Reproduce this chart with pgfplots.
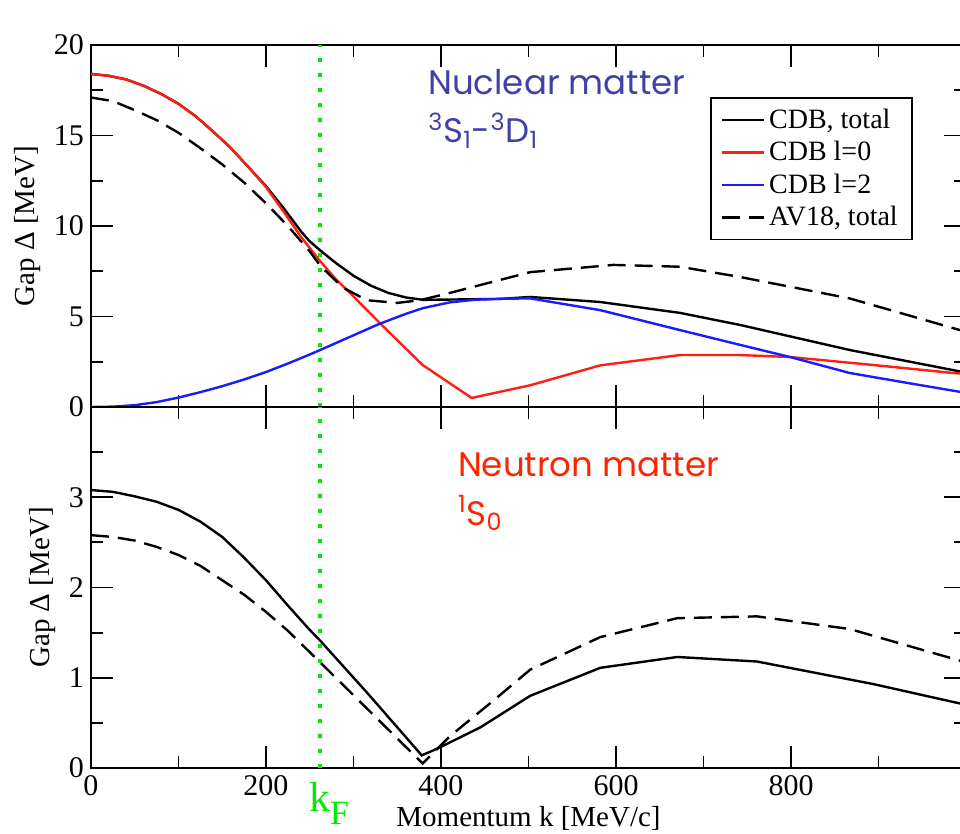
\documentclass[border=0pt]{standalone}
\usepackage{fontspec}
\setmainfont{Liberation Serif}
\newfontfamily\annot{Poppins}
\usepackage{pgfplots}
\pgfplotsset{compat=1.18}

\definecolor{nucblue}{RGB}{64,64,170}
\definecolor{neured}{RGB}{255,36,0}
\definecolor{kfgreen}{RGB}{0,235,0}
\definecolor{cdbred}{RGB}{255,30,20}
\definecolor{cdbblue}{RGB}{20,30,255}

\pgfplotsset{
  gapaxis/.style={
    width=437.5pt, scale only axis,
    xmin=0, xmax=1000,
    xtick={0,200,...,1000}, minor xtick={100,300,...,900},
    tick align=inside,
    major tick length=11pt, minor tick length=6pt,
    axis line style={line width=0.9pt},
    every tick/.style={black, line width=0.9pt},
    tick label style={font=\fontsize{15}{15}\selectfont},
    /pgf/number format/assume math mode=true,
    ylabel={Gap Δ [MeV]},
    ylabel style={font=\fontsize{14.5}{15}\selectfont, at={(axis description cs:0,0.5)}, anchor=center},
    clip mode=individual,
  },
  kfline/.style={kfgreen, line width=2pt, dash pattern=on 2pt off 5.5pt, forget plot},
  tot/.style={black, line width=1.2pt},
  av/.style={black, line width=1.2pt, dash pattern=on 9pt off 4.5pt},
}

\begin{document}
\begin{tikzpicture}
% upper panel: nuclear matter
\begin{axis}[
    gapaxis, name=top,
    height=181pt,
    ymin=0, ymax=20,
    ytick={0,5,...,20}, minor ytick={2.5,7.5,12.5,17.5},
    xticklabels={},
    ylabel style={yshift=31.5pt},
    legend style={at={(rel axis cs:0.7074,0.856)}, anchor=north west,
      draw=black, line width=0.8pt, font=\fontsize{14}{14}\selectfont,
      row sep=1pt, inner xsep=5pt, inner ysep=3.5pt, cells={anchor=west}},
    legend image code/.code={\draw[#1] (0pt,0pt) -- (21pt,0pt);},
]
\addplot[tot] coordinates {
  (0,18.4) (20,18.3) (40,18.1) (60,17.75) (80,17.3) (100,16.75) (120,16.05)
  (140,15.2) (160,14.3) (180,13.25) (200,12.2) (220,11.0) (240,9.7) (250,9.15)
  (262,8.65) (280,7.95) (300,7.25) (320,6.7) (340,6.3) (360,6.05) (380,5.92)
  (400,5.93) (467,5.97) (502,6.08) (582,5.8) (673,5.2) (742,4.53) (867,3.15)
  (985,2.04) (1000,1.9)
};
\addlegendentry{CDB, total}
\addplot[cdbred, line width=1.2pt] coordinates {
  (0,18.4) (20,18.3) (40,18.1) (60,17.75) (80,17.3) (100,16.75) (120,16.05)
  (140,15.2) (160,14.3) (180,13.25) (200,12.15) (220,10.8) (240,9.4)
  (262,8.05) (280,7.05) (296,6.3) (330,4.64) (379,2.32) (435,0.5) (502,1.2)
  (582,2.3) (673,2.87) (742,2.87) (799,2.76) (894,2.32) (985,1.88) (1000,1.82)
};
\addlegendentry{CDB l=0}
\addplot[cdbblue, line width=1.2pt] coordinates {
  (0,0) (25,0.02) (50,0.1) (75,0.27) (100,0.52) (125,0.82) (150,1.15)
  (175,1.52) (200,1.93) (225,2.4) (250,2.9) (262,3.15) (290,3.75) (330,4.6)
  (360,5.15) (380,5.47) (410,5.78) (440,5.93) (470,5.98) (502,6.0) (582,5.35)
  (673,4.25) (742,3.43) (799,2.76) (867,1.88) (933,1.33) (1000,0.78)
};
\addlegendentry{CDB l=2}
\addplot[av] coordinates {
  (0,17.1) (25,16.9) (50,16.4) (75,15.85) (100,15.15) (125,14.3) (150,13.4)
  (175,12.4) (200,11.25) (225,10.0) (250,8.6) (262,7.8) (288,6.6) (315,5.9)
  (350,5.75) (376,5.9) (410,6.3) (445,6.74) (502,7.45) (597,7.85) (673,7.75)
  (742,7.18) (867,6.0) (993,4.25) (1000,4.15)
};
\addlegendentry{AV18, total}
\addplot[kfline] coordinates {(262,0) (262,20)};
\node[anchor=base west, inner sep=0pt, text=nucblue, font=\annot\fontsize{17}{17}\selectfont]
  at (axis cs:385,17.24) {Nuclear matter};
\node[anchor=base west, inner sep=0pt, text=nucblue, font=\annot\fontsize{17}{17}\selectfont]
  at (axis cs:385,14.6) {\textsuperscript{3}S\textsubscript{1}-\textsuperscript{3}D\textsubscript{1}};
\end{axis}

% lower panel: neutron matter
\begin{axis}[
    gapaxis, name=bot,
    at={(top.south west)}, anchor=north west,
    height=180.5pt,
    ymin=0, ymax=4,
    ytick={0,1,2,3}, minor ytick={0.5,1.5,2.5,3.5},
    xticklabels={0,200,400,600,800,},
    ylabel style={yshift=24pt},
    xlabel={Momentum k [MeV/c]},
    xlabel style={font=\fontsize{14.5}{15}\selectfont, at={(axis description cs:0.5,0)}, anchor=center, yshift=-25pt},
]
\addplot[tot] coordinates {
  (0,3.08) (25,3.06) (50,3.01) (75,2.95) (100,2.86) (125,2.73) (150,2.56)
  (175,2.33) (200,2.08) (225,1.8) (250,1.53) (262,1.41) (315,0.84)
  (378,0.14) (390,0.19) (399,0.23) (445,0.45) (502,0.8) (582,1.11) (670,1.23)
  (761,1.18) (894,0.93) (1000,0.7)
};
\addplot[av] coordinates {
  (0,2.58) (25,2.56) (50,2.52) (75,2.45) (100,2.36) (125,2.24) (150,2.08)
  (175,1.92) (200,1.73) (225,1.52) (262,1.17) (379,0.05) (410,0.35)
  (464,0.78) (502,1.09) (582,1.45) (670,1.66) (761,1.68) (867,1.54) (1000,1.17)
};
\addplot[kfline] coordinates {(262,0) (262,4)};
\node[anchor=base west, inner sep=0pt, text=neured, font=\annot\fontsize{17}{17}\selectfont]
  at (axis cs:419,3.23) {Neutron matter};
\node[anchor=base west, inner sep=0pt, text=neured, font=\annot\fontsize{17}{17}\selectfont]
  at (axis cs:419,2.69) {\textsuperscript{1}S\textsubscript{0}};
\node[anchor=north, inner sep=0pt, text=kfgreen, font=\fontsize{21}{21}\selectfont]
  at (axis cs:272,0) [yshift=-7pt] {k\raisebox{-6.5pt}{\fontsize{17}{17}\selectfont F}};
\end{axis}

\pgfresetboundingbox
\useasboundingbox ([xshift=-45.5pt,yshift=22.5pt]top.north west)
  rectangle ([xshift=-3pt,yshift=-33pt]bot.south east);
\end{tikzpicture}
\end{document}
